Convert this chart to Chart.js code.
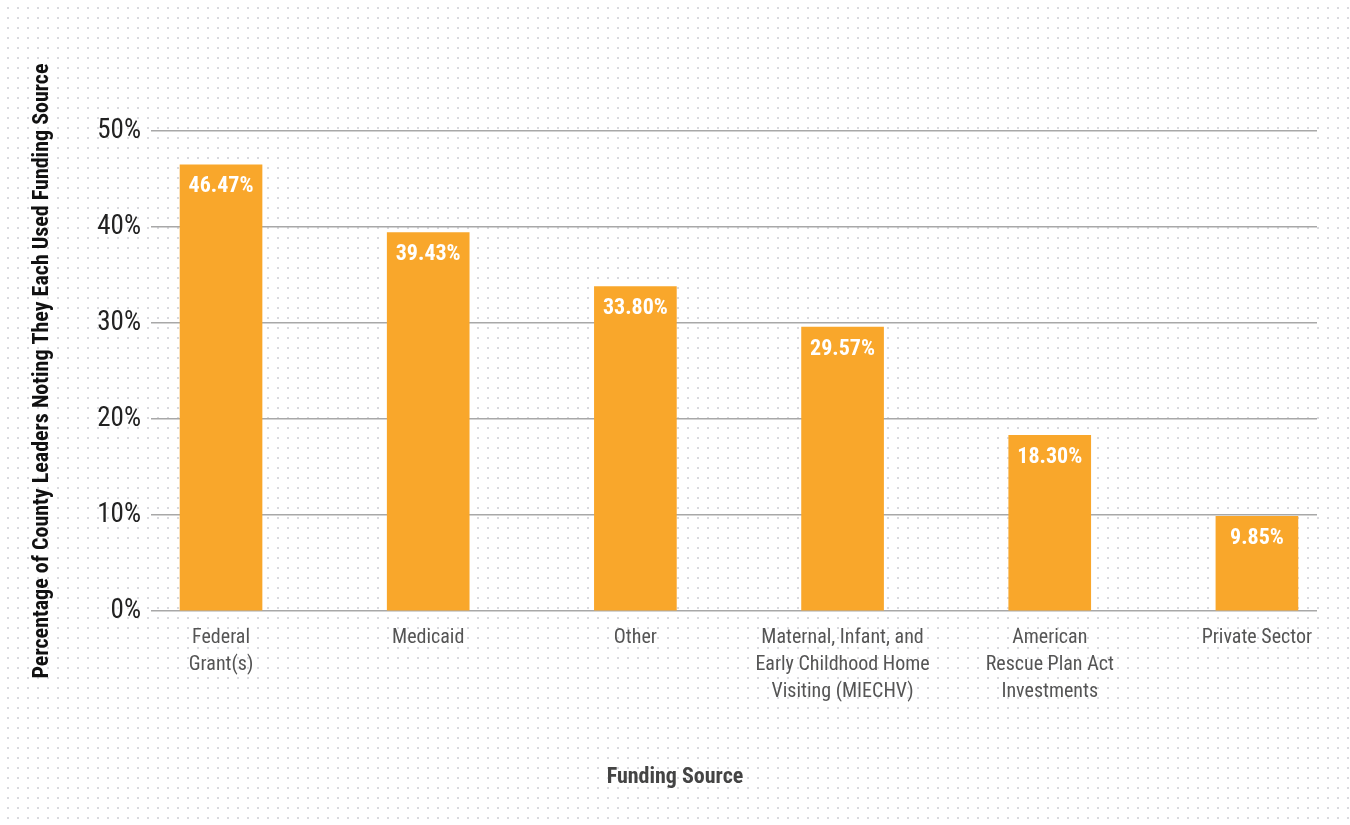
<!DOCTYPE html>
<html>
<head>
<meta charset="utf-8">
<script src="https://cdn.jsdelivr.net/npm/chart.js@4.4.1/dist/chart.umd.min.js"></script>
<style>
  html, body { margin: 0; padding: 0; background: #ffffff; }
  #wrap { width: 1350px; height: 825px; }
</style>
</head>
<body>
<div id="wrap"><canvas id="c" width="1350" height="825"></canvas></div>
<script>
const categories = [
  ["Federal", "Grant(s)"],
  "Medicaid",
  "Other",
  ["Maternal, Infant, and", "Early Childhood Home", "Visiting (MIECHV)"],
  ["American", "Rescue Plan Act", "Investments"],
  "Private Sector"
];
const shares = [46.47, 39.43, 33.80, 29.57, 18.30, 9.85];
const yTicks = [0, 10, 20, 30, 40, 50];

const FONT = "'Roboto Condensed', 'Liberation Sans Narrow', Roboto, sans-serif";

const dotsPlugin = {
  id: 'dots',
  beforeDraw(chart) {
    const ctx = chart.ctx;
    ctx.save();
    ctx.fillStyle = '#ffffff';
    ctx.fillRect(0, 0, chart.width, chart.height);
    ctx.fillStyle = '#d9d9de';
    for (let x = 8; x < chart.width; x += 10) {
      for (let y = 8; y < chart.height; y += 10) {
        ctx.fillRect(x - 1, y - 1, 2, 2);
      }
    }
    ctx.restore();
  }
};

const valueLabels = {
  id: 'valueLabels',
  afterDatasetsDraw(chart) {
    const ctx = chart.ctx;
    const meta = chart.getDatasetMeta(0);
    ctx.save();
    ctx.fillStyle = '#ffffff';
    ctx.font = "bold 22px " + FONT;
    ctx.textAlign = 'center';
    ctx.textBaseline = 'middle';
    meta.data.forEach((bar, i) => {
      ctx.fillText(shares[i].toFixed(2) + '%', bar.x, bar.y + 22);
    });
    ctx.restore();
  }
};

new Chart(document.getElementById('c'), {
  type: 'bar',
  data: {
    datasets: [{
      data: shares.map((v, i) => ({ x: i, y: v })),
      backgroundColor: '#F9A72B',
      borderWidth: 0,
      barThickness: 82
    }]
  },
  options: {
    responsive: false,
    animation: false,
    devicePixelRatio: 1,
    layout: { padding: { left: 0, right: 0, top: 131, bottom: 0 } },
    plugins: {
      legend: { display: false },
      tooltip: { enabled: false },
      title: {
        display: true,
        position: 'bottom',
        text: 'Funding Source',
        color: '#444444',
        font: { family: FONT, size: 22, weight: 'bold', lineHeight: 1.2 },
        padding: { top: 0, bottom: 34 }
      }
    },
    scales: {
      x: {
        type: 'linear',
        min: -0.338,
        max: 5.29,
        offset: false,
        grid: { display: false, drawTicks: false },
        border: { display: false },
        afterFit(scale) { scale.height = 153.6; },
        ticks: {
          stepSize: 1,
          includeBounds: false,
          autoSkip: false,
          maxRotation: 0,
          minRotation: 0,
          padding: 13,
          color: '#555555',
          font: { family: FONT, size: 20, lineHeight: 1.35 },
          callback: (v) => (Number.isInteger(v) && v >= 0 && v < categories.length) ? categories[v] : ''
        }
      },
      y: {
        min: 0,
        max: 50,
        afterFit(scale) { scale.width = 151; },
        afterBuildTicks(scale) { scale.ticks = yTicks.map(v => ({ value: v })); },
        grid: { color: '#a8a8a8', lineWidth: 1.5, drawTicks: false },
        border: { display: false },
        ticks: {
          padding: 10,
          color: '#222222',
          font: { family: FONT, size: 27 },
          callback: (v) => v + '%'
        },
        title: {
          display: true,
          text: 'Percentage of County Leaders Noting They Each Used Funding Source',
          color: '#111111',
          font: { family: FONT, size: 22, weight: 'bold', lineHeight: 1.2 },
          padding: { top: 29, bottom: 0 }
        }
      },
      yRight: {
        position: 'right',
        display: true,
        grid: { display: false, drawTicks: false },
        border: { display: false },
        ticks: { display: false },
        afterFit(scale) { scale.width = 33; }
      }
    }
  },
  plugins: [dotsPlugin, valueLabels]
});
</script>
</body>
</html>
